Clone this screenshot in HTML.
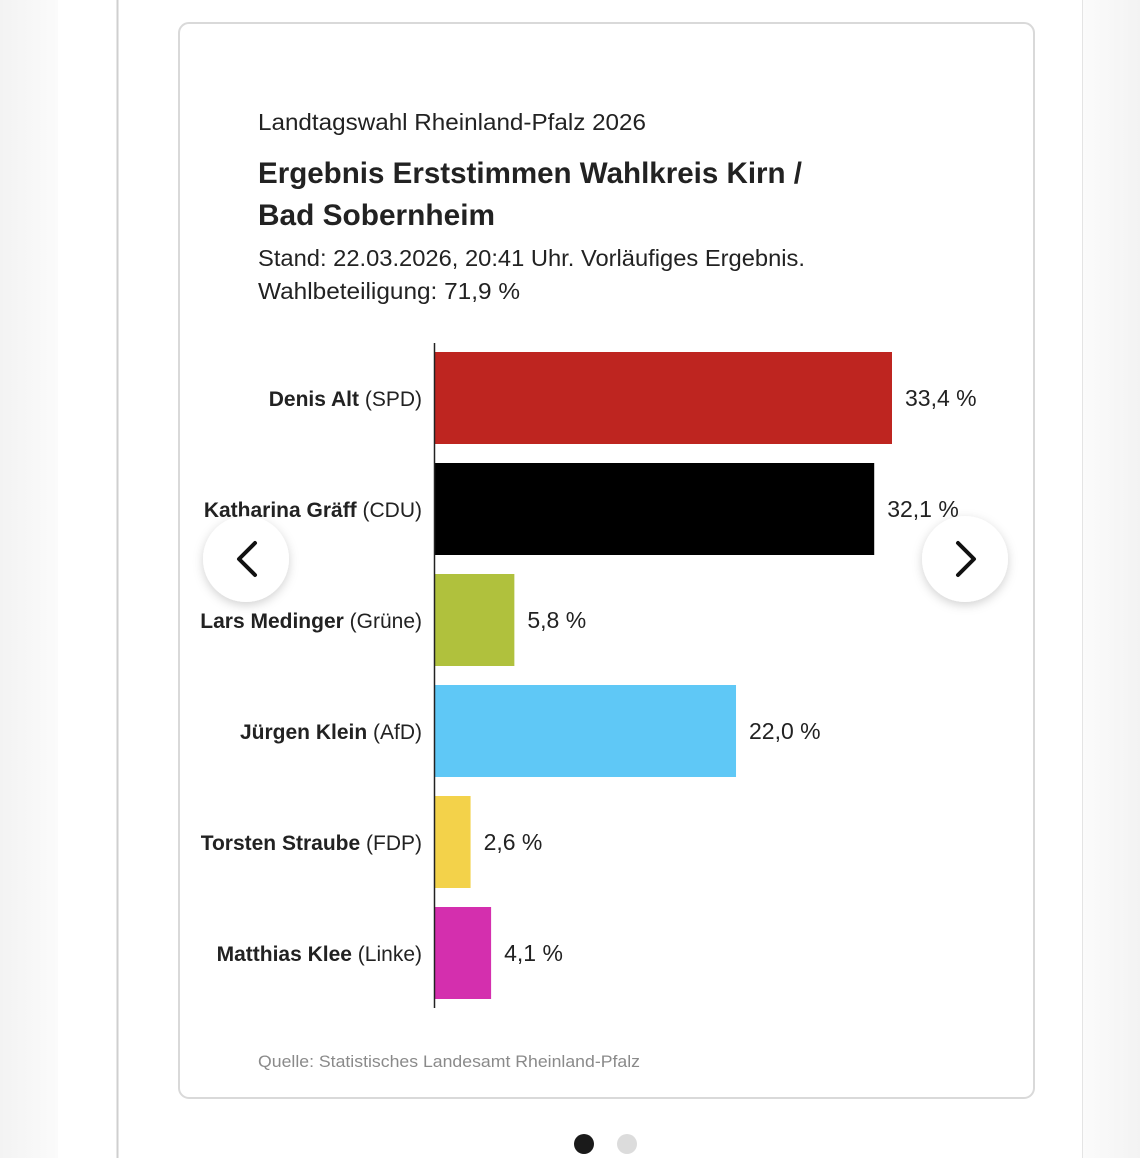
<!DOCTYPE html>
<html><head><meta charset="utf-8">
<style>
html,body{margin:0;padding:0;background:#fff;}
body{width:1140px;height:1158px;overflow:hidden;position:relative;font-family:"Liberation Sans",sans-serif;}
svg{position:absolute;left:0;top:0;}
</style></head>
<body>
<svg width="1140" height="1158" viewBox="0 0 1140 1158">
  <defs>
    <linearGradient id="lg" x1="0" x2="1"><stop offset="0" stop-color="#f3f3f3"/><stop offset="1" stop-color="#fbfbfb"/></linearGradient>
    <linearGradient id="rg" x1="0" x2="1"><stop offset="0" stop-color="#fbfbfb"/><stop offset="1" stop-color="#f3f3f3"/></linearGradient>
    <filter id="sh" x="-50%" y="-50%" width="200%" height="200%"><feDropShadow dx="0" dy="3" stdDeviation="5" flood-color="#000" flood-opacity="0.18"/></filter>
  </defs>
  <rect x="0" y="0" width="58" height="1158" fill="url(#lg)"/>
  <rect x="1083" y="0" width="57" height="1158" fill="url(#rg)"/>
  <line x1="117.5" y1="0" x2="117.5" y2="1158" stroke="#cfcfcf" stroke-width="2"/>
  <line x1="1082.5" y1="0" x2="1082.5" y2="1158" stroke="#e4e4e4" stroke-width="1"/>
  <rect x="179" y="23" width="855" height="1075" rx="10" fill="#fff" stroke="#d9d9d9" stroke-width="2"/>

  <text x="258" y="130" font-size="23" fill="#222" textLength="388" lengthAdjust="spacingAndGlyphs">Landtagswahl Rheinland-Pfalz 2026</text>
  <text x="258" y="183" font-size="30" font-weight="bold" fill="#222" textLength="544" lengthAdjust="spacingAndGlyphs">Ergebnis Erststimmen Wahlkreis Kirn /</text>
  <text x="258" y="225" font-size="30" font-weight="bold" fill="#222" textLength="237" lengthAdjust="spacingAndGlyphs">Bad Sobernheim</text>
  <text x="258" y="266" font-size="23" fill="#222" textLength="547" lengthAdjust="spacingAndGlyphs">Stand: 22.03.2026, 20:41 Uhr. Vorläufiges Ergebnis.</text>
  <text x="258" y="299" font-size="23" fill="#222" textLength="262" lengthAdjust="spacingAndGlyphs">Wahlbeteiligung: 71,9 %</text>

  <g id="plot"></g>
  <line x1="434.5" y1="343" x2="434.5" y2="1008" stroke="#222" stroke-width="1.5"/>

  <text x="258" y="1067" font-size="17" fill="#8a8a8a" textLength="382" lengthAdjust="spacingAndGlyphs">Quelle: Statistisches Landesamt Rheinland-Pfalz</text>

  <g filter="url(#sh)">
    <circle cx="246" cy="559" r="43" fill="#fff"/>
  </g>
  <path d="M255 543 L239 559 L255 575" fill="none" stroke="#111" stroke-width="4" stroke-linecap="round" stroke-linejoin="round"/>
  <g filter="url(#sh)">
    <circle cx="965" cy="559" r="43" fill="#fff"/>
  </g>
  <path d="M958 543 L974 559 L958 575" fill="none" stroke="#111" stroke-width="4" stroke-linecap="round" stroke-linejoin="round"/>

  <circle cx="584" cy="1144" r="10" fill="#1a1a1a"/>
  <circle cx="627" cy="1144" r="10" fill="#dcdcdc"/>
</svg>
<script>
const names = ["Denis Alt", "Katharina Gräff", "Lars Medinger", "Jürgen Klein", "Torsten Straube", "Matthias Klee"];
const parties = ["SPD", "CDU", "Grüne", "AfD", "FDP", "Linke"];
const values = [33.4, 32.1, 5.8, 22.0, 2.6, 4.1];
const valueLabels = ["33,4 %", "32,1 %", "5,8 %", "22,0 %", "2,6 %", "4,1 %"];
const colors = ["#be2520", "#000000", "#b0c13d", "#5fc8f6", "#f3d24a", "#d42fae"];

const NS = "http://www.w3.org/2000/svg";
const g = document.getElementById("plot");
const x0 = 435, pxPerUnit = 457 / 33.4;
const xScale = v => x0 + v * pxPerUnit;
const top0 = 352, step = 111, barH = 92;
const yScale = i => top0 + i * step;

for (let i = 0; i < values.length; i++) {
  const y = yScale(i);
  const r = document.createElementNS(NS, "rect");
  r.setAttribute("x", x0);
  r.setAttribute("y", y);
  r.setAttribute("width", xScale(values[i]) - x0);
  r.setAttribute("height", barH);
  r.setAttribute("fill", colors[i]);
  
  
  g.appendChild(r);

  const lab = document.createElementNS(NS, "text");
  lab.setAttribute("x", 422);
  lab.setAttribute("y", y + barH / 2 + 8);
  lab.setAttribute("text-anchor", "end");
  lab.setAttribute("font-size", "21");
  lab.setAttribute("fill", "#222");
  const b = document.createElementNS(NS, "tspan");
  b.setAttribute("font-weight", "bold");
  b.textContent = names[i] + " ";
  const p = document.createElementNS(NS, "tspan");
  p.textContent = "(" + parties[i] + ")";
  lab.appendChild(b); lab.appendChild(p);
  
  
  g.appendChild(lab);

  const vl = document.createElementNS(NS, "text");
  vl.setAttribute("x", xScale(values[i]) + 13);
  vl.setAttribute("y", y + barH / 2 + 8);
  vl.setAttribute("font-size", "23");
  vl.setAttribute("fill", "#222");
  vl.textContent = valueLabels[i];
  
  
  g.appendChild(vl);
}
</script>
</body></html>
